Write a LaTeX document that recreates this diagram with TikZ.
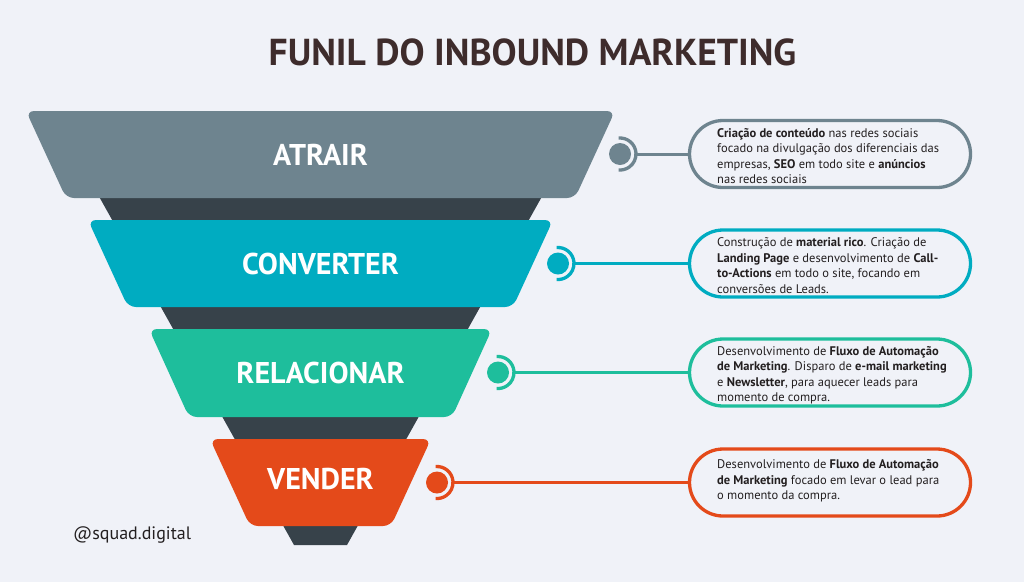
\documentclass[tikz,border=0pt]{standalone}
\usepackage{fontspec}
\setmainfont{PT Sans}
\usetikzlibrary{shapes.misc}
\definecolor{bg}{RGB}{240,242,248}
\definecolor{cgray}{RGB}{110,132,143}
\definecolor{cdark}{RGB}{55,66,74}
\definecolor{cblue}{RGB}{0,172,193}
\definecolor{cgreen}{RGB}{30,190,156}
\definecolor{corange}{RGB}{228,74,26}
\definecolor{ctitle}{RGB}{62,44,44}
\definecolor{ctxt}{RGB}{35,31,32}
\tikzset{
  band/.style={rounded corners=8pt},
  bandlabel/.style={text=white, inner sep=0pt, font=\fontsize{30}{30}\selectfont\bfseries},
  dotnode/.style={circle, inner sep=0pt, minimum size=22pt},
  ring/.style={line width=3.3pt},
  callout/.style={rounded rectangle, draw, line width=3.3pt, minimum width=281pt, minimum height=67pt, inner sep=0pt},
  desc/.style={anchor=west, align=left, inner sep=0pt, text=ctxt, font=\fontsize{12.5}{15.5}\selectfont},
  link/.style={line width=3pt}
}
\begin{document}
\begin{tikzpicture}[x=1pt,y=-1pt]
\fill[bg] (0,0) rectangle (1024,582);
\useasboundingbox (0,0) rectangle (1024,582);

% title
\node[text=ctitle, inner sep=0pt, font=\fontsize{37.5}{38}\selectfont\bfseries] (title) at (532.5,52.5) {FUNIL DO INBOUND MARKETING};

% dark funnel
\fill[cdark] (78.6,160) -- (562.4,160) -- (347,545) -- (294,545) -- cycle;

% bands
\fill[cgray, band] (26,111) -- (615,111) -- (575,198) -- (66,198) -- cycle;
\fill[cblue, band] (88,220) -- (553,220) -- (513,307) -- (128,307) -- cycle;
\fill[cgreen, band] (149,329) -- (492,329) -- (452,417) -- (189,417) -- cycle;
\fill[corange, band] (210,439) -- (431,439) -- (391,526) -- (250,526) -- cycle;

\node[bandlabel] (l1) at (320.5,155) {ATRAIR};
\node[bandlabel] (l2) at (320.5,264) {CONVERTER};
\node[bandlabel] (l3) at (320.5,373) {RELACIONAR};
\node[bandlabel] (l4) at (320.5,479) {VENDER};

% dots and rings
\node[dotnode, fill=cgray] (d1) at (620,154) {};
\node[dotnode, fill=cblue] (d2) at (558,263.5) {};
\node[dotnode, fill=cgreen] (d3) at (498,372.5) {};
\node[dotnode, fill=corange] (d4) at (437,482.5) {};
\foreach \i/\c in {1/cgray,2/cblue,3/cgreen,4/corange}{
  \draw[ring, \c] ([shift={(95:16pt)}]d\i.center) arc[start angle=95, end angle=-95, radius=16pt];
  \coordinate (a\i) at ([xshift=16pt]d\i.center);
}

% callout boxes
\node[callout, draw=cgray] (b1) at (830,154) {};
\node[callout, draw=cblue] (b2) at (830,263.5) {};
\node[callout, draw=cgreen] (b3) at (830,372.5) {};
\node[callout, draw=corange] (b4) at (830,482.5) {};

\draw[link, cgray] (a1) -- (b1.west);
\draw[link, cblue] (a2) -- (b2.west);
\draw[link, cgreen] (a3) -- (b3.west);
\draw[link, corange] (a4) -- (b4.west);

\node[desc] (t1) at (717,156) {\textbf{Criação de conteúdo} nas redes sociais\\focado na divulgação dos diferenciais das\\empresas, \textbf{SEO} em todo site e \textbf{anúncios}\\nas redes sociais};
\node[desc] (t2) at (717,265.5) {Construção de \textbf{material rico}. Criação de\\\textbf{Landing Page} e desenvolvimento de \textbf{Call-}\\\textbf{to-Actions} em todo o site, focando em\\conversões de Leads.};
\node[desc] (t3) at (717,375) {Desenvolvimento de \textbf{Fluxo de Automação}\\\textbf{de Marketing}. Disparo de \textbf{e-mail marketing}\\e \textbf{Newsletter}, para aquecer leads para\\momento de compra.};
\node[desc] (t4) at (717,481) {Desenvolvimento de \textbf{Fluxo de Automação}\\\textbf{de Marketing} focado em levar o lead para\\o momento da compra.};

% handle
\node[anchor=west, inner sep=0pt, text=ctxt, font=\fontsize{18}{18}\selectfont] (handle) at (73,535) {@squad.digital};
\end{tikzpicture}
\end{document}
